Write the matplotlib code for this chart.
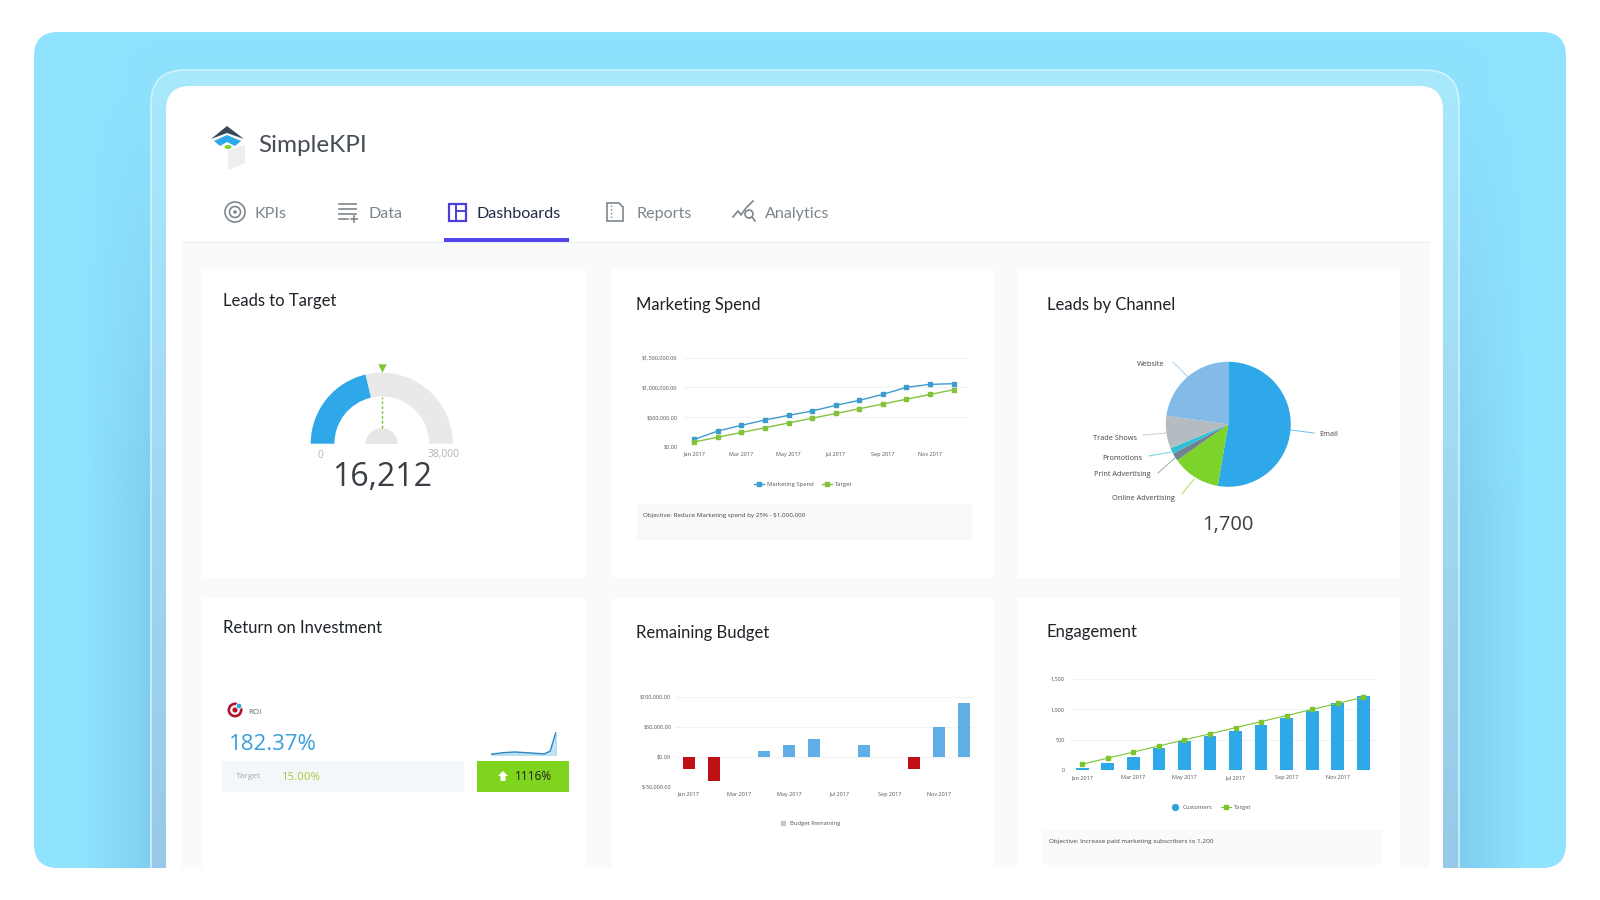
import matplotlib
matplotlib.use("Agg")
import matplotlib.pyplot as plt
import numpy as np
from matplotlib.colors import to_rgb
from matplotlib.lines import Line2D
from matplotlib.patches import Circle, Ellipse, FancyBboxPatch, Polygon, Rectangle, Wedge

plt.rcParams["font.family"] = ["Open Sans", "DejaVu Sans"]

MONTHS = ["Jan 2017", "Feb 2017", "Mar 2017", "Apr 2017", "May 2017", "Jun 2017",
          "Jul 2017", "Aug 2017", "Sep 2017", "Oct 2017", "Nov 2017", "Dec 2017"]

spend_actual = [123000, 264000, 360000, 450000, 528000, 601000,
                697000, 781000, 882000, 1000000, 1051000, 1062000]
spend_target = [80000, 160000, 240000, 320000, 400000, 480000,
                560000, 640000, 720000, 800000, 880000, 960000]

budget_remaining = [-20000, -40000, 0, 10000, 20000, 30000,
                    0, 20000, 0, -20000, 50000, 90000]

customers = [38, 115, 225, 361, 482, 564, 646, 745, 854, 974, 1111, 1221]
customers_target = [100, 200, 300, 400, 500, 600, 700, 800, 900, 1000, 1100, 1200]

channel_names = ["Email", "Online Advertising", "Print Advertising", "Promotions", "Trade Shows", "Website"]
channel_leads = [896, 213, 34, 26, 143, 388]
channel_colors = ["#2EA8E8", "#7CD32A", "#6F8391", "#2FC0D8", "#B4BCC2", "#84BBE6"]

leads_value = 16212
leads_max = 38000
leads_target = 19000

roi_history = [6, 12, 18, 21, 24, 21, 18, 15, 12, 9, 30, 182]

BLUE = "#2EA8E8"
GREEN = "#7CC52E"
GRID = "#F0F2F4"


def px_axes(fig, left, top, right, bottom):
    ax = fig.add_axes([left / 1600, 1 - bottom / 900, (right - left) / 1600, (bottom - top) / 900])
    ax.patch.set_alpha(0)
    for spine in ax.spines.values():
        spine.set_visible(False)
    return ax


def style_chart(ax, y_ticks, y_labels, y_lim):
    ax.set_xlim(-0.5, 11.5)
    ax.set_ylim(*y_lim)
    ax.set_xticks(range(0, 12, 2), MONTHS[::2])
    ax.set_yticks(y_ticks, y_labels)
    ax.tick_params(length=0, labelsize=4, labelcolor="#555555", pad=3.5)
    ax.grid(axis="y", color=GRID, linewidth=0.8)
    ax.set_axisbelow(True)


fig = plt.figure(figsize=(16, 9), dpi=100, facecolor="white")
bg = fig.add_axes([0, 0, 1, 1])
bg.axis("off")

# page chrome
blue_box = FancyBboxPatch((34, 32), 1532, 836, boxstyle="round,pad=0,rounding_size=24",
                          fc="#8FE3FF", ec="none", zorder=1)
bg.add_patch(blue_box)

# soft shadow around the frame, stronger towards the bottom
xx, yy = np.meshgrid(np.arange(0, 1600, 2), np.arange(0, 900, 2))
dist = np.hypot(np.maximum(np.maximum(151 - xx, xx - 1459), 0), np.maximum(70 - yy, 0))
shadow = np.zeros(xx.shape + (4,))
shadow[..., :3] = (0.30, 0.55, 0.75)
shadow[..., 3] = 0.25 * np.clip(1 - dist / 68, 0, 1) * np.clip((yy - 60) / 450, 0.08, 1)
shadow_im = bg.imshow(shadow, extent=(0, 1600, 900, 0), aspect="auto", zorder=2)
shadow_im.set_clip_path(blue_box)

frame_top = np.array(to_rgb("#A8E9FD"))
frame_bottom = np.array(to_rgb("#98C9E8"))
frame_mix = np.linspace(0, 1, 200)[:, None, None]
frame_colors = frame_top[None, None, :] * (1 - frame_mix) + frame_bottom[None, None, :] * frame_mix
frame = FancyBboxPatch((151, 70), 1308, 900, boxstyle="round,pad=0,rounding_size=34",
                       fc="none", ec="none", zorder=3)
bg.add_patch(frame)
frame_im = bg.imshow(frame_colors, extent=(151, 1459, 868, 70), aspect="auto", zorder=3)
frame_im.set_clip_path(frame)
frame_line = FancyBboxPatch((151, 70), 1308, 900, boxstyle="round,pad=0,rounding_size=34",
                            fc="none", ec="#CFF3FF", lw=1.2, zorder=3.5)
bg.add_patch(frame_line)
frame_line.set_clip_path(blue_box)

bg.set_xlim(0, 1600)
bg.set_ylim(900, 0)

card = FancyBboxPatch((166, 86), 1277, 900, boxstyle="round,pad=0,rounding_size=24",
                      fc="white", ec="none", zorder=4)
bg.add_patch(card)
card.set_clip_path(blue_box)
page = Rectangle((182, 242), 1247, 626, fc="#F8FAFB", ec="none", zorder=5)
bg.add_patch(page)

card_boxes = [(202, 269, 383, 309), (612, 269, 381, 309), (1017, 269, 383, 309),
              (202, 598, 383, 270), (612, 598, 381, 270), (1017, 598, 383, 270)]
for x, y, w, h in card_boxes:
    bg.add_patch(Rectangle((x, y), w, h, fc="white", ec="none", zorder=6))

# logo
bg.add_patch(Polygon([(228, 150), (245, 145), (245, 163), (228, 170)], fc="#ECEEF0", ec="none", zorder=7))
bg.add_patch(Polygon([(211, 139), (227, 126), (244, 139), (227, 133)], fc="#37485A", ec="none", zorder=7))
bg.add_patch(Polygon([(214, 141), (227, 135), (241, 141), (235, 146), (227, 142), (220, 146)],
                     fc="#2EA8E8", ec="none", zorder=7))
bg.add_patch(Ellipse((228, 147), 7, 4, fc="#7CD32A", ec="none", zorder=7))
bg.text(258, 146, "SimpleKPI", fontsize=17.5, family="Lato", color="#474D55", va="center", zorder=8)

# tabs
tab_names = ["KPIs", "Data", "Dashboards", "Reports", "Analytics"]
tab_x = [255, 368, 477, 636, 765]
for name, x in zip(tab_names, tab_x):
    active = name == "Dashboards"
    bg.text(x, 214, name, fontsize=11.6, family="Lato", va="center", zorder=8,
            color="#1F2A44" if active else "#7D858D")
bg.add_patch(Rectangle((444, 238), 125, 4, fc="#5147E8", ec="none", zorder=8))
bg.plot([182, 1429], [242, 242], color="#ECEEF0", lw=1, zorder=7)

ICON = "#7D858D"
bg.add_patch(Circle((235, 212), 10, fc="none", ec=ICON, lw=1.2, zorder=8))
bg.add_patch(Circle((235, 212), 5.5, fc="none", ec=ICON, lw=1.2, zorder=8))
bg.add_patch(Circle((235, 212), 1.8, fc=ICON, ec="none", zorder=8))
for y, x2 in [(204, 356), (209, 356), (214, 356), (219, 348)]:
    bg.plot([339, x2], [y, y], color=ICON, lw=1.2, zorder=8)
bg.plot([351, 357], [219, 219], color=ICON, lw=1.2, zorder=8)
bg.plot([354, 354], [216, 222], color=ICON, lw=1.2, zorder=8)
bg.add_patch(Rectangle((449, 204), 17, 17, fc="none", ec="#4B3FD8", lw=1.6, zorder=8))
bg.plot([456, 456], [204, 221], color="#4B3FD8", lw=1.4, zorder=8)
bg.plot([456, 466], [211, 211], color="#4B3FD8", lw=1.4, zorder=8)
bg.add_patch(Polygon([(607, 203), (619, 203), (623, 207), (623, 221), (607, 221)],
                     fc="none", ec=ICON, lw=1.2, zorder=8))
bg.plot([611, 611], [205, 219], color=ICON, lw=1, ls=":", zorder=8)
bg.plot([733, 738, 741, 746, 753], [217, 211, 215, 208, 201], color=ICON, lw=1.2, zorder=8)
bg.add_patch(Circle((749, 214), 4, fc="white", ec=ICON, lw=1.2, zorder=8))
bg.plot([752, 755], [217, 221], color=ICON, lw=1.2, zorder=8)

# card titles
titles = [("Leads to Target", 223, 301), ("Marketing Spend", 636, 305), ("Leads by Channel", 1047, 305),
          ("Return on Investment", 223, 628), ("Remaining Budget", 636, 633), ("Engagement", 1047, 632)]
for title, x, y in titles:
    bg.text(x, y, title, fontsize=12, family="Lato", color="#1E2328", va="center", zorder=8)

# objective boxes
bg.add_patch(Rectangle((637, 504), 335, 36, fc="#F8F9FA", ec="none", zorder=7))
bg.text(643, 516, "Objective: Reduce Marketing spend by 25% - $1,000,000", fontsize=4.5,
        color="#444444", va="center", zorder=8)
bg.add_patch(Rectangle((1043, 830), 340, 35, fc="#F9FAFA", ec="none", zorder=7))
bg.text(1049, 842, "Objective: Increase paid marketing subscribers to 1,200", fontsize=4.6,
        color="#444444", va="center", zorder=8)

# gauge
gauge = px_axes(fig, 301.7, 363.7, 461.7, 453.7)
gauge.set_xlim(-80, 80)
gauge.set_ylim(-10, 80)
gauge.set_xticks([])
gauge.set_yticks([])
value_angle = 180 - 180 * leads_value / leads_max
target_angle = 180 - 180 * leads_target / leads_max
gauge.add_patch(Wedge((0, 0), 71, 0, value_angle, width=23.7, fc="#E9E9E9", ec="none"))
gauge.add_patch(Wedge((0, 0), 71, value_angle, 180, width=23.7, fc=BLUE, ec="none"))
gauge.add_patch(Ellipse((0, 0), 32, 31, fc="#E6E6E6", ec="none"))
gauge.add_patch(Rectangle((-20, -10), 40, 10, fc="white", ec="none"))
needle_x = [16 * np.cos(np.radians(target_angle)), 47 * np.cos(np.radians(target_angle))]
gauge.plot(needle_x, [16, 47], color=GREEN, lw=1, ls=(0, (2, 1.5)))
gauge.scatter([76 * np.cos(np.radians(target_angle))], [76], marker="v", s=36, color=GREEN, linewidths=0)
bg.text(320, 455, "0", fontsize=7.4, color="#B5B5B5", ha="center", va="center", zorder=8)
bg.text(444, 455, f"{leads_max:,}", fontsize=7.4, color="#B5B5B5", ha="center", va="center", zorder=8)
bg.text(382, 478, f"{leads_value:,}", fontsize=23, color="#3A3F45", ha="center", va="center", zorder=8)

# marketing spend
spend = px_axes(fig, 682.5, 357.7, 970, 446.7)
style_chart(spend, [0, 500000, 1000000, 1500000],
            ["$0.00", "$500,000.00", "$1,000,000.00", "$1,500,000.00"], (0, 1500000))
spend.set_xlim(-0.5, 11.7)
spend.plot(range(12), spend_actual, color="#3D9BD0", lw=1, marker="s", ms=2.6, label="Marketing Spend", clip_on=False)
spend.plot(range(12), spend_target, color="#84C23C", lw=1, marker="s", ms=2.6, label="Target", clip_on=False)
spend.legend(loc="center", bbox_to_anchor=(0.42, -0.42), ncol=2, frameon=False, fontsize=4.2,
             labelcolor="#555555", handlelength=1.8, columnspacing=1.3, handletextpad=0.5)

# pie
pie = px_axes(fig, 1165.8, 361.8, 1290.8, 486.8)
pie.pie(channel_leads, colors=channel_colors, startangle=90, counterclock=False, radius=1)
pie.set_xlim(-1, 1)
pie.set_ylim(-1, 1)
leaders = [((1291, 430), (1314, 433), 1319, 435, "left"),
           ((1194, 479), (1182, 494), 1174.5, 498, "right"),
           ((1176, 457), (1158, 473), 1151, 475, "right"),
           ((1171, 452), (1149, 456), 1142, 459, "right"),
           ((1166, 433), (1143, 435), 1137, 438, "right"),
           ((1188, 377), (1173, 362), 1164, 365, "right")]
for name, (start, end, tx, ty, ha), color in zip(channel_names, leaders, channel_colors):
    bg.plot([start[0], end[0]], [start[1], end[1]], color=color, lw=0.7, alpha=0.7, zorder=8)
    bg.text(tx, ty, name, fontsize=5.3, color="#444444", ha=ha, va="center", zorder=8)
bg.text(1228, 525, f"{sum(channel_leads):,}", fontsize=14.5, color="#3A3F45", ha="center", va="center", zorder=8)

# roi card
bg.add_patch(Circle((235, 710), 7.5, fc="#B5162F", ec="none", zorder=8))
bg.add_patch(Circle((235, 710), 4.8, fc="white", ec="none", zorder=8))
bg.add_patch(Circle((235, 710), 2.6, fc="#B5162F", ec="none", zorder=8))
bg.add_patch(Circle((239, 706), 2.8, fc="#35A7E0", ec="white", lw=0.6, zorder=8))
bg.text(248, 712, "ROI", fontsize=5.8, color="#666666", va="center", zorder=8)
bg.text(229, 745, "182.37%", fontsize=16, color="#3AA0DC", va="center", zorder=8)
bg.add_patch(Rectangle((222, 761), 242, 31, fc="#F4F7F9", ec="none", zorder=7))
bg.text(236, 777, "Target", fontsize=6, color="#A8A8A8", va="center", zorder=8)
bg.text(282, 777, "15.00%", fontsize=8.2, color="#A3C93A", va="center", zorder=8)
bg.add_patch(Rectangle((477, 761), 92, 31, fc="#7FD41E", ec="none", zorder=7))
bg.text(533, 776, "1116%", fontsize=8.5, color="#222222", ha="center", va="center", zorder=8)
bg.add_patch(Polygon([(503, 771), (508, 776), (505.5, 776), (505.5, 781), (500.5, 781), (500.5, 776), (498, 776)],
                     fc="white", ec="none", zorder=8))

spark = px_axes(fig, 491, 732, 556, 755)
spark.set_xlim(0, 11)
spark.set_ylim(0, 182)
spark.set_xticks([])
spark.set_yticks([])
spark.fill_between(range(12), roi_history, color="#A8D8EE", alpha=0.7)
spark.plot(range(12), roi_history, color="#2E86C8", lw=1)
spark.plot([0, 11], [0, 0], color="#9CCB5A", lw=0.8)

# remaining budget
budget = px_axes(fig, 676, 696.7, 977, 786.7)
style_chart(budget, [-50000, 0, 50000, 100000],
            ["$-50,000.00", "$0.00", "$50,000.00", "$100,000.00"], (-50000, 100000))
budget_colors = ["#5FAEE6" if v >= 0 else "#C00F14" for v in budget_remaining]
budget.bar(range(12), budget_remaining, width=0.48, color=budget_colors)
budget.legend(handles=[Line2D([], [], ls="none", marker="s", ms=3.5, color="#C8C8C8", label="Budget Remaining")],
              loc="center", bbox_to_anchor=(0.44, -0.41), frameon=False, fontsize=4.2,
              labelcolor="#555555", handletextpad=0.2)

# engagement
engage = px_axes(fig, 1069.5, 679, 1376, 770.3)
style_chart(engage, [0, 500, 1000, 1500], ["0", "500", "1,000", "1,500"], (0, 1500))
engage.bar(range(12), customers, width=0.5, color=BLUE)
engage.plot(range(12), customers_target, color=GREEN, lw=0.8, marker="s", ms=2.6, clip_on=False)
legend_handles = [Line2D([], [], ls="none", marker="o", ms=4.2, color="#2FA3D8", label="Customers"),
                  Line2D([], [], color=GREEN, lw=0.8, marker="s", ms=2.6, label="Target")]
engage.legend(handles=legend_handles, loc="center", bbox_to_anchor=(0.46, -0.41), ncol=2, frameon=False,
              fontsize=4.2, labelcolor="#555555", handlelength=1.8, columnspacing=1.4, handletextpad=0.4)

fig.savefig("out.png", dpi=100)
